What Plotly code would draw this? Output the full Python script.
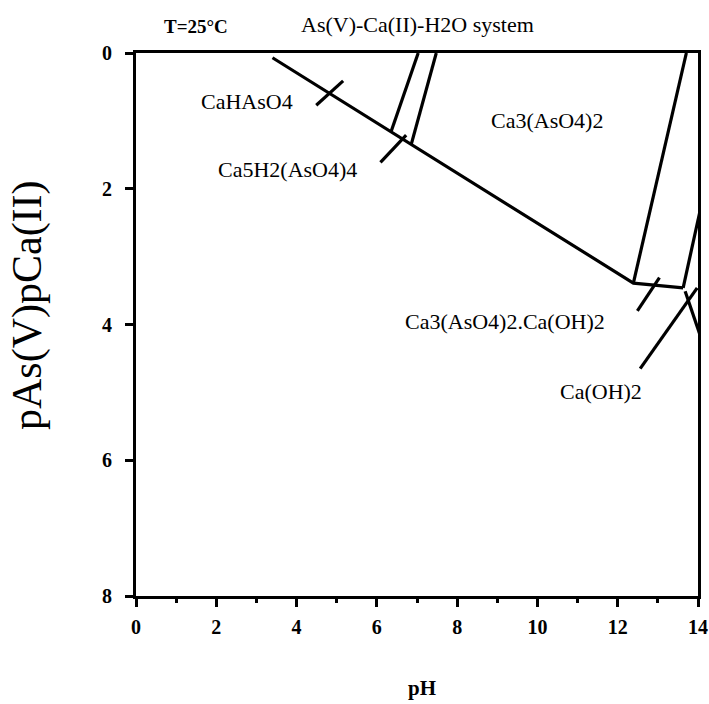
import plotly.graph_objects as go

# Phase boundaries of the As(V)-Ca(II)-H2O system at 25 °C (pH vs pAs(V)pCa(II))
main_ph = [3.40, 12.39, 13.63]
main_p = [0.07, 3.39, 3.46]

ca3_right_ph = [13.71, 12.39]
ca3_right_p = [0.00, 3.39]

pair_left_ph = [7.03, 6.36]
pair_left_p = [0.00, 1.15]

pair_right_ph = [7.48, 6.86]
pair_right_p = [0.00, 1.34]

edge_up_ph = [13.63, 14.06]
edge_up_p = [3.46, 2.30]

edge_down_ph = [13.68, 14.06]
edge_down_p = [3.51, 4.17]

# Leader strokes pointing from the phase names to their fields
lead_cahaso4_ph = [4.49, 5.16]
lead_cahaso4_p = [0.77, 0.41]
lead_ca5_ph = [6.09, 6.73]
lead_ca5_p = [1.61, 1.21]
lead_ca3caoh_ph = [12.49, 13.04]
lead_ca3caoh_p = [3.80, 3.31]
lead_caoh_ph = [12.56, 13.98]
lead_caoh_p = [4.65, 3.46]

# Phase names and their positions (pH, pAs(V)pCa(II))
phase_names = ["CaHAsO4", "Ca5H2(AsO4)4", "Ca3(AsO4)2", "Ca3(AsO4)2.Ca(OH)2", "Ca(OH)2"]
phase_ph = [2.77, 3.77, 10.25, 9.20, 11.59]
phase_p = [0.71, 1.71, 1.00, 3.95, 4.98]

x_ticks = [0, 2, 4, 6, 8, 10, 12, 14]
y_ticks = [0, 2, 4, 6, 8]

SERIF = "Liberation Serif, Times New Roman, serif"

# Frame geometry in pixels
W, H = 709, 704
ML, MR, MT, MB = 136, 11, 53, 108
PW, PH = W - ML - MR, H - MT - MB


def paper_xy(px, py):
    """Pixel position on the page -> paper coordinates."""
    return (px - ML) / PW, (H - MB - py) / PH


def centered_text(px, py, text, size, angle=0):
    x, y = paper_xy(px, py)
    fig.add_annotation(x=x, y=y, xref="paper", yref="paper", text=text,
                       xanchor="center", yanchor="middle", textangle=angle,
                       showarrow=False, font=dict(family=SERIF, size=size, color="black"))


fig = go.Figure()

segments = [
    (main_ph, main_p),
    (ca3_right_ph, ca3_right_p),
    (pair_left_ph, pair_left_p),
    (pair_right_ph, pair_right_p),
    (edge_up_ph, edge_up_p),
    (edge_down_ph, edge_down_p),
    (lead_cahaso4_ph, lead_cahaso4_p),
    (lead_ca5_ph, lead_ca5_p),
    (lead_ca3caoh_ph, lead_ca3caoh_p),
    (lead_caoh_ph, lead_caoh_p),
]
for xs, ys in segments:
    fig.add_trace(go.Scatter(x=xs, y=ys, mode="lines",
                             line=dict(color="black", width=3.2),
                             showlegend=False, hoverinfo="skip"))

for name, px, pp in zip(phase_names, phase_ph, phase_p):
    fig.add_annotation(x=px, y=pp, xref="x", yref="y", text=name, showarrow=False,
                       xanchor="center", yanchor="middle",
                       font=dict(family=SERIF, size=22, color="black"))

# Header texts above the frame
centered_text(196, 26, "<b>T=25°C</b>", 19)
centered_text(417, 25, "As(V)-Ca(II)-H2O system", 22)

# Axis titles
centered_text(422, 688, "<b>pH</b>", 21)
centered_text(27, 305, "pAs(V)pCa(II)", 42, angle=-90)

fig.update_layout(
    width=W, height=H,
    margin=dict(l=ML, r=MR, t=MT, b=MB, autoexpand=False),
    paper_bgcolor="white", plot_bgcolor="white",
    font=dict(family=SERIF, color="black"),
)

fig.update_xaxes(
    range=[0, 14], tickvals=x_ticks, ticktext=[f"<b>{v}</b>" for v in x_ticks],
    ticks="outside", ticklen=8, tickwidth=3, tickcolor="black",
    minor=dict(dtick=1, tick0=0, ticks="outside", ticklen=4, tickwidth=3, tickcolor="black"),
    showline=True, linewidth=3, linecolor="black", mirror=True,
    showgrid=False, zeroline=False, automargin=False,
    tickfont=dict(family=SERIF, size=20, color="black"),
    ticklabelstandoff=3,
)
fig.update_yaxes(
    range=[8, 0], tickvals=y_ticks, ticktext=[f"<b>{v}</b>" for v in y_ticks],
    ticks="outside", ticklen=8, tickwidth=3, tickcolor="black",
    showline=True, linewidth=3, linecolor="black", mirror=True,
    showgrid=False, zeroline=False, automargin=False,
    tickfont=dict(family=SERIF, size=20, color="black"),
    ticklabelstandoff=9,
)

fig.write_html("out.html")
